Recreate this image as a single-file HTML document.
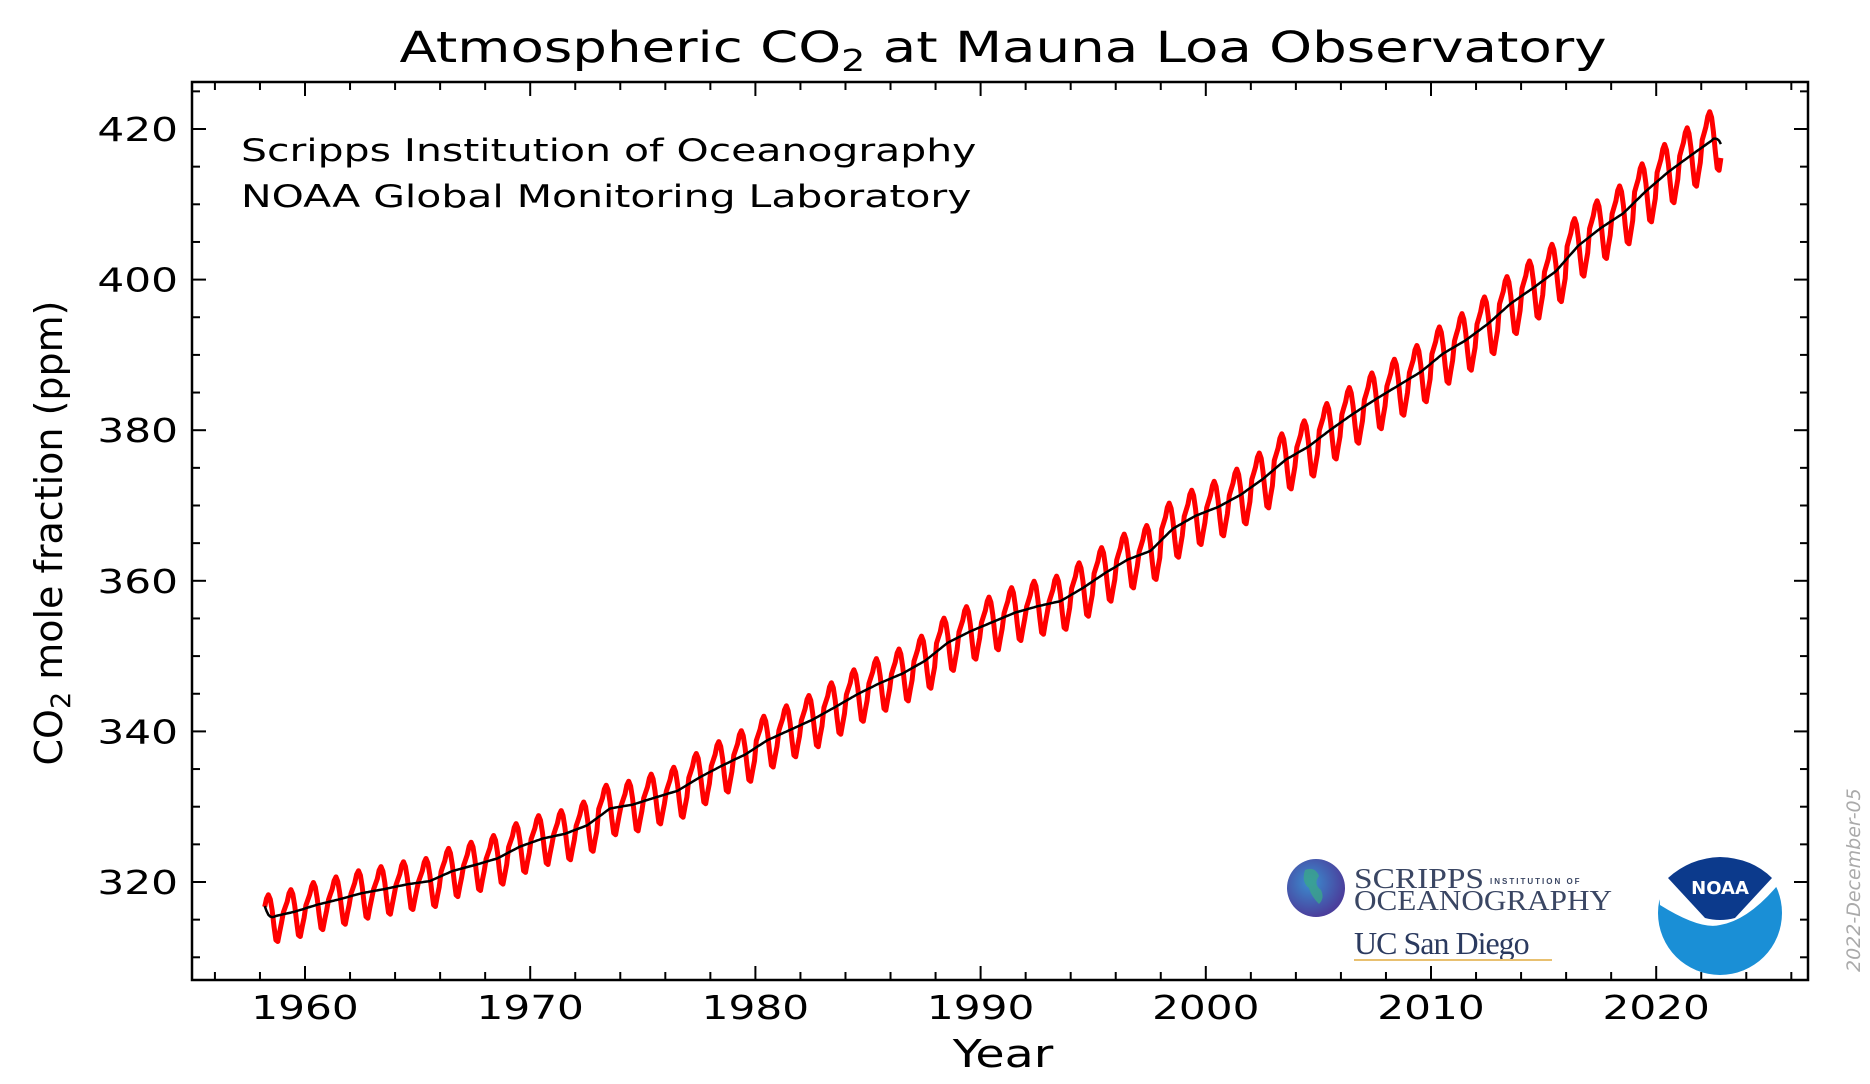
<!DOCTYPE html>
<html><head><meta charset="utf-8"><style>
html,body{margin:0;padding:0;background:#fff;}
svg{display:block;font-family:"DejaVu Sans","Liberation Sans",sans-serif;}
</style></head><body>
<svg id="chart" width="1870" height="1084" viewBox="0 0 1870 1084" xmlns="http://www.w3.org/2000/svg">
<rect width="1870" height="1084" fill="#fff"/>
<text transform="translate(1003,62) scale(1.27,1)" font-size="43" text-anchor="middle" fill="#000">Atmospheric CO<tspan font-size="30" dy="9">2</tspan><tspan dy="-9"> at Mauna Loa Observatory</tspan></text>
<g id="ticks"></g>
<g id="series"></g>
<rect x="192" y="82" width="1616" height="898" fill="none" stroke="#000" stroke-width="2.5"/>
<text transform="translate(241,161) scale(1.32,1)" font-size="31" fill="#000">Scripps Institution of Oceanography</text>
<text transform="translate(241,207) scale(1.32,1)" font-size="31" fill="#000">NOAA Global Monitoring Laboratory</text>
<text transform="translate(1003,1067) scale(1.25,1)" font-size="38" text-anchor="middle" fill="#000">Year</text>
<text transform="translate(62,533) rotate(-90)" font-size="38" text-anchor="middle" fill="#000">CO<tspan font-size="27" dy="8">2</tspan><tspan dy="-8"> mole fraction (ppm)</tspan></text>
<text transform="translate(1860,972) rotate(-90)" font-size="19" fill="#aaa" font-style="italic">2022-December-05</text>
<g>
<defs><radialGradient id="gl" cx="40%" cy="40%" r="60%"><stop offset="0" stop-color="#3a8fd0"/><stop offset="1" stop-color="#4b3f9c"/></radialGradient></defs>
<circle cx="1316" cy="888" r="29" fill="url(#gl)"/>
<path d="M1305 870 q10 -4 14 6 q-6 8 2 14 q4 8 -2 14 q-8 -8 -10 -16 q-8 -6 -4 -18z" fill="#3aa58a" opacity="0.8"/>
<text x="1354" y="888" font-family="Liberation Serif,serif" font-size="29" fill="#3a4663" textLength="130" lengthAdjust="spacingAndGlyphs">SCRIPPS</text>
<text x="1490" y="884" font-family="Liberation Sans,sans-serif" font-size="8" font-weight="bold" fill="#3a4663" letter-spacing="2">INSTITUTION OF</text>
<text x="1354" y="910" font-family="Liberation Serif,serif" font-size="29" fill="#3a4663" textLength="258" lengthAdjust="spacingAndGlyphs">OCEANOGRAPHY</text>
<text x="1354" y="954" font-family="Liberation Serif,serif" font-size="32" fill="#2b3a5f" letter-spacing="-1">UC San Diego</text>
<line x1="1354" y1="960" x2="1552" y2="960" stroke="#e8c070" stroke-width="2"/>
</g>
<g>
<circle cx="1720" cy="913" r="62" fill="#1a8fd6"/>
<path d="M1660 905 Q1700 930 1720 925 Q1750 920 1782 880 Q1760 850 1720 850 Q1680 850 1658 880 Z" fill="#fff"/>
<path d="M1668 878 Q1690 858 1720 857 Q1752 858 1772 878 L1735 918 Q1720 922 1705 918 Z" fill="#0c3a8c"/>
<text x="1720" y="894" font-size="18" font-weight="bold" fill="#fff" text-anchor="middle">NOAA</text>
</g>
</svg>
<script>
const annualMeans=[315.3,315.98,316.91,317.64,318.45,318.99,319.62,320.04,321.37,322.18,323.05,324.62,325.68,326.32,327.46,329.68,330.19,331.13,332.03,333.84,335.41,336.84,338.76,340.12,341.48,343.15,344.87,346.35,347.61,349.31,351.69,353.20,354.45,355.70,356.54,357.21,358.96,360.97,362.74,363.88,366.84,368.54,369.71,371.32,373.45,375.98,377.70,379.98,382.09,384.02,385.83,387.64,390.10,391.85,394.06,396.74,398.81,401.01,404.41,406.76,408.72,411.65,414.21,416.41,418.53];
const firstYear=1958;
const seasonalCycle=[0.0,0.7,1.4,2.5,3.0,2.4,0.9,-1.2,-3.0,-3.2,-1.9,-0.7];
const xTickLabels=[1960,1970,1980,1990,2000,2010,2020];
const yTickLabels=[320,340,360,380,400,420];
const NS="http://www.w3.org/2000/svg";
const L=192,R=1808,T=82,B=980;
function xs(yr){return 305+(yr-1960)*22.52;}
function ys(v){return 882-(v-320)*7.53;}
function mk(tag,attrs,parent){const e=document.createElementNS(NS,tag);for(const k in attrs)e.setAttribute(k,attrs[k]);parent.appendChild(e);return e;}
const tg=document.getElementById('ticks');
for(let yr=1956;yr<=2026;yr+=2){const x=xs(yr);if(x<L||x>R)continue;const len=yr%10===0?14:8;
 const t1=mk('line',{x1:x,y1:B,x2:x,y2:B-len,stroke:'#000','stroke-width':2},tg);
 
 const t2=mk('line',{x1:x,y1:T,x2:x,y2:T+len,stroke:'#000','stroke-width':2},tg);
 }
for(let v=310;v<=425;v+=5){const y=ys(v);if(y<T||y>B)continue;const len=v%20===0?14:8;
 const t1=mk('line',{x1:L,y1:y,x2:L+len,y2:y,stroke:'#000','stroke-width':2},tg);
 
 const t2=mk('line',{x1:R,y1:y,x2:R-len,y2:y,stroke:'#000','stroke-width':2},tg);
 }
xTickLabels.forEach(v=>{const t=mk('text',{transform:'translate('+xs(v)+',1019) scale(1.28,1)','font-size':33,'text-anchor':'middle',fill:'#000'},tg);t.textContent=v;
 });
yTickLabels.forEach(v=>{const t=mk('text',{transform:'translate(178,'+(ys(v)+12)+') scale(1.28,1)','font-size':33,'text-anchor':'end',fill:'#000'},tg);t.textContent=v;
 });
const months=[],vals=[];
for(let i=0;i<annualMeans.length;i++){for(let m=0;m<12;m++){const yr=firstYear+i;
 if(yr===1958&&m<2)continue;if(yr===2022&&m>10)continue;
 months.push(yr+(m+0.5)/12);vals.push(annualMeans[i]+seasonalCycle[m]*(1+i*0.004));}}
const sg=document.getElementById('series');
let d='';months.forEach((t,i)=>{d+=(i?'L':'M')+xs(t).toFixed(1)+' '+ys(vals[i]).toFixed(1);});
const red=mk('path',{d:d,fill:'none',stroke:'#ff0000','stroke-width':5,'stroke-linejoin':'round'},sg);

let d2='';months.forEach((t,i)=>{let s=0,n=0;for(let j=Math.max(0,i-6);j<=Math.min(vals.length-1,i+5);j++){s+=vals[j];n++;}
 const a=s/n;d2+=(i?'L':'M')+xs(t).toFixed(1)+' '+ys(a).toFixed(1);});
const blk=mk('path',{d:d2,fill:'none',stroke:'#000','stroke-width':2.5,'stroke-linejoin':'round'},sg);

</script>
</body></html>
